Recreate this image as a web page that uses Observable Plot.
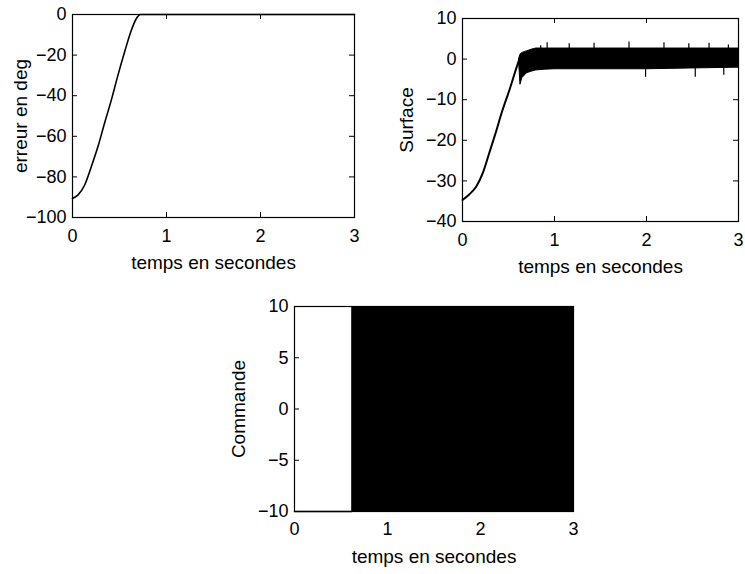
<!DOCTYPE html>
<html>
<head>
<meta charset="utf-8">
<script src="https://cdn.jsdelivr.net/npm/d3@7"></script>
<script src="https://cdn.jsdelivr.net/npm/@observablehq/plot@0.6"></script>
<style>
  html, body { margin: 0; padding: 0; background: #fff; }
  #fig { position: relative; width: 745px; height: 574px; overflow: hidden; background: #fff; }
  #fig svg { position: absolute; }
</style>
</head>
<body>
<div id="fig"></div>
<script>
// ---------- Data ----------
const xTicks = [0, 1, 2, 3];
const xLabel = "temps en secondes";

// Panel 1: erreur en deg
const errTicks = [0, -20, -40, -60, -80, -100];
const errLabel = "erreur en deg";
const errT   = [0, 0.057, 0.128, 0.199, 0.27, 0.34, 0.412, 0.483, 0.554, 0.625, 0.678, 0.724, 3];
const errVal = [-90.6, -89.0, -84.1, -75.1, -65.2, -53.7, -42.3, -30.0, -18.5, -7.9, -2.1, 0, 0];

// Panel 2: Surface
const surfTicks = [10, 0, -10, -20, -30, -40];
const surfLabel = "Surface";
const surfT   = [0, 0.07, 0.15, 0.22, 0.29, 0.36, 0.43, 0.51, 0.58, 0.615];
const surfVal = [-34.7, -33.4, -31.4, -28.1, -23.2, -18.2, -12.9, -7.6, -2.6, -0.2];
// chattering band (envelope)
const bandT  = [0.615, 0.63, 0.65, 0.7, 0.75, 0.8, 0.9, 1.0, 1.5, 2.0, 2.5, 3.0];
const bandHi = [0, 1.1, 1.5, 1.9, 2.3, 2.6, 2.6, 2.6, 2.6, 2.6, 2.6, 2.6];
const bandLo = [-0.5, -6.3, -4.7, -3.5, -3.1, -2.8, -2.6, -2.5, -2.5, -2.5, -2.3, -2.1];
// isolated spikes
const spikeT   = [0.85, 0.92, 1.16, 1.43, 1.81, 2.19, 2.46, 2.68, 2.89, 1.99, 2.53, 2.84];
const spikeVal = [3.3, 4.0, 3.8, 3.9, 4.2, 4.0, 3.8, 3.9, 3.5, -4.5, -4.5, -4.0];

// Panel 3: Commande
const cmdTicks = [10, 5, 0, -5, -10];
const cmdLabel = "Commande";
const cmdT  = [0, 0.615, 3];
const cmdLo = [-10, -10, -10];
const cmdHi = [-10, 10, 10];

// ---------- Helpers ----------
const FONT = "'Liberation Sans', Arial, Helvetica, sans-serif";
const FS = 18;      // tick labels
const FS_T = 19;    // axis titles
const zip = (xs, ys, k1 = "x", k2 = "y") => xs.map((x, i) => ({[k1]: x, [k2]: ys[i]}));
const fmt = d => (d < 0 ? "\u2212" + Math.abs(d) : String(d));

function panel(o) {
  const W = o.width - o.mL - o.mR;
  const H = o.height - o.mT - o.mB;
  const svg = Plot.plot({
    width: o.width, height: o.height,
    marginLeft: o.mL, marginRight: o.mR, marginTop: o.mT, marginBottom: o.mB,
    x: {domain: [0, 3], axis: null},
    y: {domain: o.yDomain, axis: null},
    style: {fontFamily: FONT, fontSize: FS + "px", color: "black", background: "transparent", overflow: "visible"},
    marks: [
      ...o.marks,
      // inward ticks on all four sides
      Plot.tickX(xTicks, {x: d => d, insetTop: H - 5, stroke: "black", strokeWidth: 1}),
      Plot.tickX(xTicks, {x: d => d, insetBottom: H - 5, stroke: "black", strokeWidth: 1}),
      Plot.tickY(o.yTicks, {y: d => d, insetRight: W - 5, stroke: "black", strokeWidth: 1}),
      Plot.tickY(o.yTicks, {y: d => d, insetLeft: W - 5, stroke: "black", strokeWidth: 1}),
      // tick labels
      Plot.text(xTicks, {x: d => d, text: fmt, frameAnchor: "bottom", dy: o.xDy, lineAnchor: "middle", textAnchor: "middle", fontSize: FS, fill: "black"}),
      Plot.text(o.yTicks, {y: d => d, text: fmt, frameAnchor: "left", dx: -6, textAnchor: "end", lineAnchor: "middle", fontSize: FS, fill: "black"}),
      // axis titles
      Plot.text([xLabel], {text: d => d, frameAnchor: "bottom", dy: 45, lineAnchor: "middle", textAnchor: "middle", fontSize: FS_T, fill: "black"}),
      Plot.text([o.yLabel], {text: d => d, frameAnchor: "left", dx: -o.yOff, rotate: -90, textAnchor: "middle", lineAnchor: "middle", fontSize: FS_T, fill: "black"}),
      Plot.frame({stroke: "black", strokeWidth: 1.2})
    ]
  });
  svg.style.left = o.left + "px";
  svg.style.top = o.top + "px";
  document.getElementById("fig").appendChild(svg);
}

// Panel 1
panel({
  left: 0, top: 0, width: 372, height: 285, mL: 72, mR: 18, mT: 14, mB: 68,
  yDomain: [-100, 0], yTicks: errTicks, yLabel: errLabel, yOff: 52, xDy: 19,
  marks: [
    Plot.line(zip(errT, errVal), {x: "x", y: "y", curve: "monotone-x", stroke: "black", strokeWidth: 1.6})
  ]
});

// Panel 2
panel({
  left: 380, top: 0, width: 365, height: 285, mL: 82, mR: 7, mT: 18, mB: 64,
  yDomain: [-40, 10], yTicks: surfTicks, yLabel: surfLabel, yOff: 56, xDy: 19,
  marks: [
    Plot.areaY(bandT.map((t, i) => ({t, lo: bandLo[i], hi: bandHi[i]})), {x: "t", y1: "lo", y2: "hi", fill: "black", stroke: "black", strokeWidth: 1}),
    Plot.ruleX(zip(spikeT, spikeVal), {x: "x", y1: 0, y2: "y", stroke: "black", strokeWidth: 1.2}),
    Plot.line(zip(surfT, surfVal), {x: "x", y: "y", curve: "monotone-x", stroke: "black", strokeWidth: 2})
  ]
});

// Panel 3
panel({
  left: 200, top: 290, width: 400, height: 284, mL: 94, mR: 27, mT: 16, mB: 63,
  yDomain: [-10, 10], yTicks: cmdTicks, yLabel: cmdLabel, yOff: 56, xDy: 18,
  marks: [
    Plot.areaY(cmdT.map((t, i) => ({t, lo: cmdLo[i], hi: cmdHi[i]})), {x: "t", y1: "lo", y2: "hi", curve: "step-after", fill: "black"}),
    Plot.line(zip(cmdT.slice(0, 2), cmdLo.slice(0, 2)), {x: "x", y: "y", stroke: "black", strokeWidth: 1.5})
  ]
});
</script>
</body>
</html>
